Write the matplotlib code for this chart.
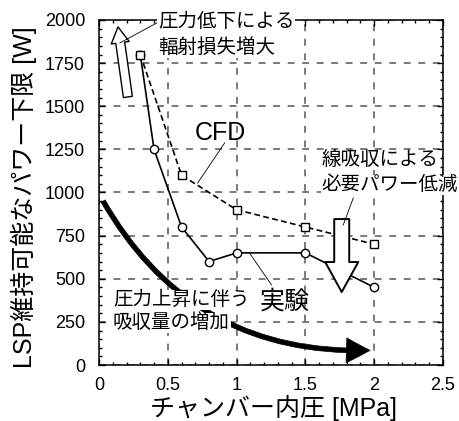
import matplotlib
matplotlib.use("Agg")
import matplotlib.pyplot as plt
from matplotlib.patches import FancyArrowPatch
from matplotlib.ticker import MultipleLocator

plt.rcParams['font.family'] = ['Liberation Sans', 'Noto Sans CJK JP', 'DejaVu Sans']

# Data
exp_p = [0.3, 0.4, 0.6, 0.8, 1.0, 1.5, 2.0]
exp_w = [1800, 1250, 800, 600, 650, 650, 450]
cfd_p = [0.3, 0.6, 1.0, 1.5, 2.0]
cfd_w = [1800, 1100, 900, 800, 700]
x_ticks = [0, 0.5, 1, 1.5, 2, 2.5]
x_tick_labels = ['0', '0.5', '1', '1.5', '2', '2.5']
y_ticks = [0, 250, 500, 750, 1000, 1250, 1500, 1750, 2000]

xlabel = 'チャンバー内圧 [MPa]'
ylabel = 'LSP維持可能なパワー下限 [W]'

fig = plt.figure(figsize=(4.59, 4.21), dpi=100)
ax = fig.add_axes([99/459, 1 - 365/421, (443-99)/459, (365-20)/421])

ax.set_xlim(0, 2.5)
ax.set_ylim(0, 2000)
ax.set_xticks(x_ticks)
ax.set_xticklabels(x_tick_labels)
ax.set_yticks(y_ticks)
ax.xaxis.set_minor_locator(MultipleLocator(0.1))
ax.yaxis.set_minor_locator(MultipleLocator(50))
ax.tick_params(which='both', direction='in', top=True, right=True, labelsize=13, width=1.0)
ax.tick_params(which='major', length=4)
ax.tick_params(which='minor', length=2.5)
ax.tick_params(axis='y', pad=10)
ax.tick_params(axis='x', pad=9)
for s in ax.spines.values():
    s.set_linewidth(1.1)

ax.grid(True, which='major', color='#555555', linestyle=(0, (4.5, 5)), linewidth=1.1)
ax.set_axisbelow(True)

ax.plot(exp_p, exp_w, color='black', lw=1.2, marker='o', ms=6, mfc='white',
        mec='black', mew=1.0, zorder=4)
ax.plot(cfd_p, cfd_w, color='black', lw=1.2, dashes=(3.5, 2), marker='s', ms=6,
        mfc='white', mec='black', mew=1.0, zorder=5)

ax.set_xlabel(xlabel, fontsize=18, va='center', ha='center')
ax.xaxis.set_label_coords(0.506, -0.125)
ax.set_ylabel(ylabel, fontsize=18, va='center', ha='center')
ax.yaxis.set_label_coords(-0.219, 0.487)

white = dict(facecolor='white', edgecolor='none', pad=0.5)

# Thick curved arrow (absorption increase)
thick = FancyArrowPatch((0.03, 950), (1.97, 85),
                        connectionstyle='arc3,rad=0.3',
                        arrowstyle='simple,head_length=17,head_width=18,tail_width=3.4',
                        mutation_scale=1, shrinkA=0, shrinkB=0,
                        facecolor='black', edgecolor='black', lw=0.5, zorder=6)
ax.add_patch(thick)

# Hollow up arrow
up = FancyArrowPatch((0.21, 1554), (0.138, 1960),
                     arrowstyle='simple,head_length=11.5,head_width=13,tail_width=6.5',
                     mutation_scale=1, shrinkA=0, shrinkB=0,
                     facecolor='white', edgecolor='black', lw=1.0, zorder=7, clip_on=False)
ax.add_patch(up)

# Hollow down arrow
down = FancyArrowPatch((1.764, 846), (1.764, 423),
                       arrowstyle='simple,head_length=21.6,head_width=23.8,tail_width=10.8',
                       mutation_scale=1, shrinkA=0, shrinkB=0,
                       facecolor='white', edgecolor='black', lw=1.4, zorder=7)
ax.add_patch(down)

# Leader lines
ax.plot([0.42, 0.152], [1983, 1867], color='black', lw=0.6, zorder=8, clip_on=False)
ax.plot([0.913, 0.717], [1287, 1055], color='black', lw=0.6, zorder=8)
ax.plot([1.848, 1.775], [968, 812], color='black', lw=0.6, zorder=8)
ax.plot([1.094, 1.254], [649, 464], color='black', lw=0.6, zorder=8)

# Texts
ax.text(0.4275, 1988, '圧力低下による', fontsize=14, ha='left', va='center',
        bbox=white, zorder=9, clip_on=False)
ax.text(0.4275, 1838, '輻射損失増大', fontsize=14, ha='left', va='center',
        bbox=white, zorder=9)
ax.text(0.696, 1345, 'CFD', fontsize=18, ha='left', va='center', zorder=9)
ax.text(1.616, 1188, '線吸収による', fontsize=14, ha='left', va='center',
        bbox=white, zorder=9, clip_on=False)
ax.text(1.616, 1043, '必要パワー低減', fontsize=14, ha='left', va='center',
        bbox=white, zorder=9, clip_on=False)
ax.text(1.167, 365, '実験', fontsize=18, ha='left', va='center', zorder=9)
ax.text(0.101, 377, '圧力上昇に伴う', fontsize=14, ha='left', va='center',
        bbox=white, zorder=9)
ax.text(0.101, 243, '吸収量の増加', fontsize=14, ha='left', va='center',
        bbox=white, zorder=9)

fig.savefig('out.png', dpi=100)
